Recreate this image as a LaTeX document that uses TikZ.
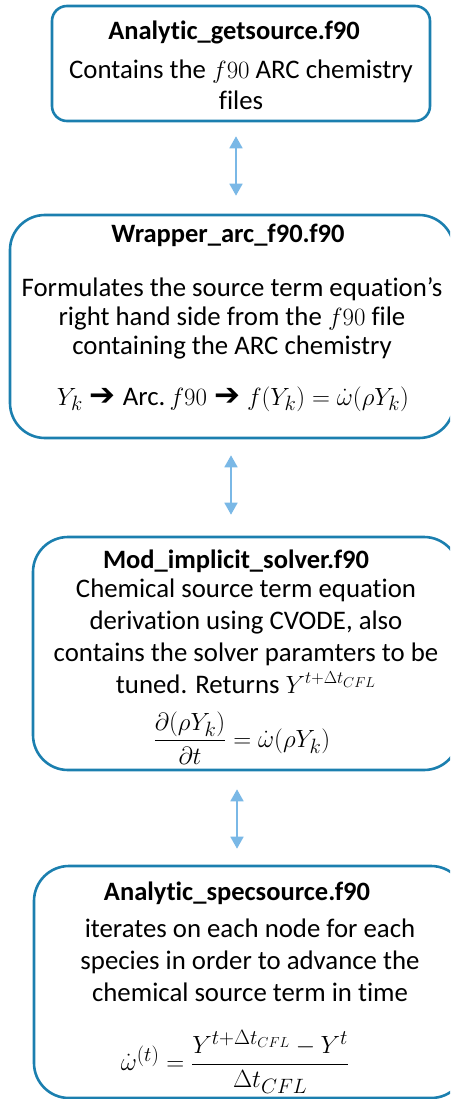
\documentclass[tikz,border=0pt]{standalone}
\usepackage{amsmath}
\usepackage{fontspec}
\setmainfont{Carlito}[Ligatures={NoCommon,NoContextual}]
\newfontfamily\symfont{DejaVu Sans}
\usetikzlibrary{calc, arrows.meta}

\newcommand{\symarrow}{{\symfont\bfseries ➔}}

\begin{document}
\begin{tikzpicture}[x=1pt, y=-1pt,
    fileBox/.style={draw=borderColour, line width=2.6pt, rounded corners=#1, inner sep=0pt},
    fileBox/.default=35pt,
    fileTitle/.style={anchor=base, inner sep=0pt, font=\fontsize{26.5}{30}\selectfont\bfseries},
    fileText/.style={anchor=base, inner sep=0pt, align=center, font=\fontsize{26.8}{#1}\selectfont},
    fileText/.default=31pt,
    fileEqn/.style={inner sep=0pt, font=\fontsize{#1}{33}\selectfont},
    fileEqn/.default=29.5,
    link/.style={draw=linkColour, line width=1.8pt, {Triangle[width=13pt,length=12pt]}-{Triangle[width=13pt,length=12pt]}}]
    % Define colors
    \definecolor{borderColour}{HTML}{1B7FAF}
    \definecolor{linkColour}{HTML}{7AB8E6}

    % Fix picture size
    \useasboundingbox (0,0) rectangle (450,1099);
    \clip (0,0) rectangle (450,1099);

    % Draw boxes
    \node[fileBox=15pt, minimum width=378pt, minimum height=115pt] (b1) at (241,63.5) {};
    \node[fileBox, minimum width=444pt, minimum height=223pt] (b2) at (232,326.5) {};
    \node[fileBox, minimum width=426pt, minimum height=233pt] (b3) at (246,653.5) {};
    \node[fileBox, minimum width=432pt, minimum height=232pt] (b4) at (250,982) {};

    % Box 1 text (base = last line)
    \node[fileTitle] (t1) at (234,40) {Analytic\_getsource.f90};
    \node[fileText=31pt] (d1) at (241,110) {Contains the $f90$ ARC chemistry\\files};

    % Box 2 text
    \node[fileTitle] (t2) at (228,242) {Wrapper\_arc\_f90.f90};
    \node[fileText=29pt] (d2) at (232,354) {Formulates the source term equation’s\\right hand side from the $f90$ file\\containing the ARC chemistry};
    \node[fileEqn=31, anchor=base] (e2) at (233,405) {$Y_k$ \symarrow\ {\fontsize{26.8}{30}\selectfont Arc.}$\,f90$ \symarrow\ $f(Y_k)=\dot{\omega}(\rho Y_k)$};

    % Box 3 text
    \node[fileTitle] (t3) at (236,568) {Mod\_implicit\_solver.f90};
    \node[fileText=32pt] (d3) at (246,693) {Chemical source term equation\\derivation using CVODE, also\\contains the solver paramters to be\\tuned. Returns $Y^{t+\Delta t_{CFL}}$};
    \node[fileEqn] (e3) at (242,738) {$\dfrac{\partial(\rho Y_k)}{\partial t}=\dot{\omega}(\rho Y_k)$};

    % Box 4 text
    \node[fileTitle] (t4) at (237,900) {Analytic\_specsource.f90};
    \node[fileText=32pt] (d4) at (250,1001) {iterates on each node for each\\species in order to advance the\\chemical source term in time};
    \node[fileEqn] (e4) at (235,1062) {$\dot{\omega}^{(t)}=\dfrac{Y^{t+\Delta t_{CFL}}-Y^{t}}{\Delta t_{CFL}}$};

    % Arrow positions
    \coordinate (a1) at (236,0);
    \coordinate (a2) at (231,0);
    \coordinate (a3) at (237,0);

    % Draw links
    \draw[link, shorten <=14pt, shorten >=18pt] (b1.south -| a1) -- (b2.north -| a1);
    \draw[link, shorten <=16pt, shorten >=21pt] (b2.south -| a2) -- (b3.north -| a2);
    \draw[link, shorten <=18pt, shorten >=16pt] (b3.south -| a3) -- (b4.north -| a3);

\end{tikzpicture}
\end{document}
